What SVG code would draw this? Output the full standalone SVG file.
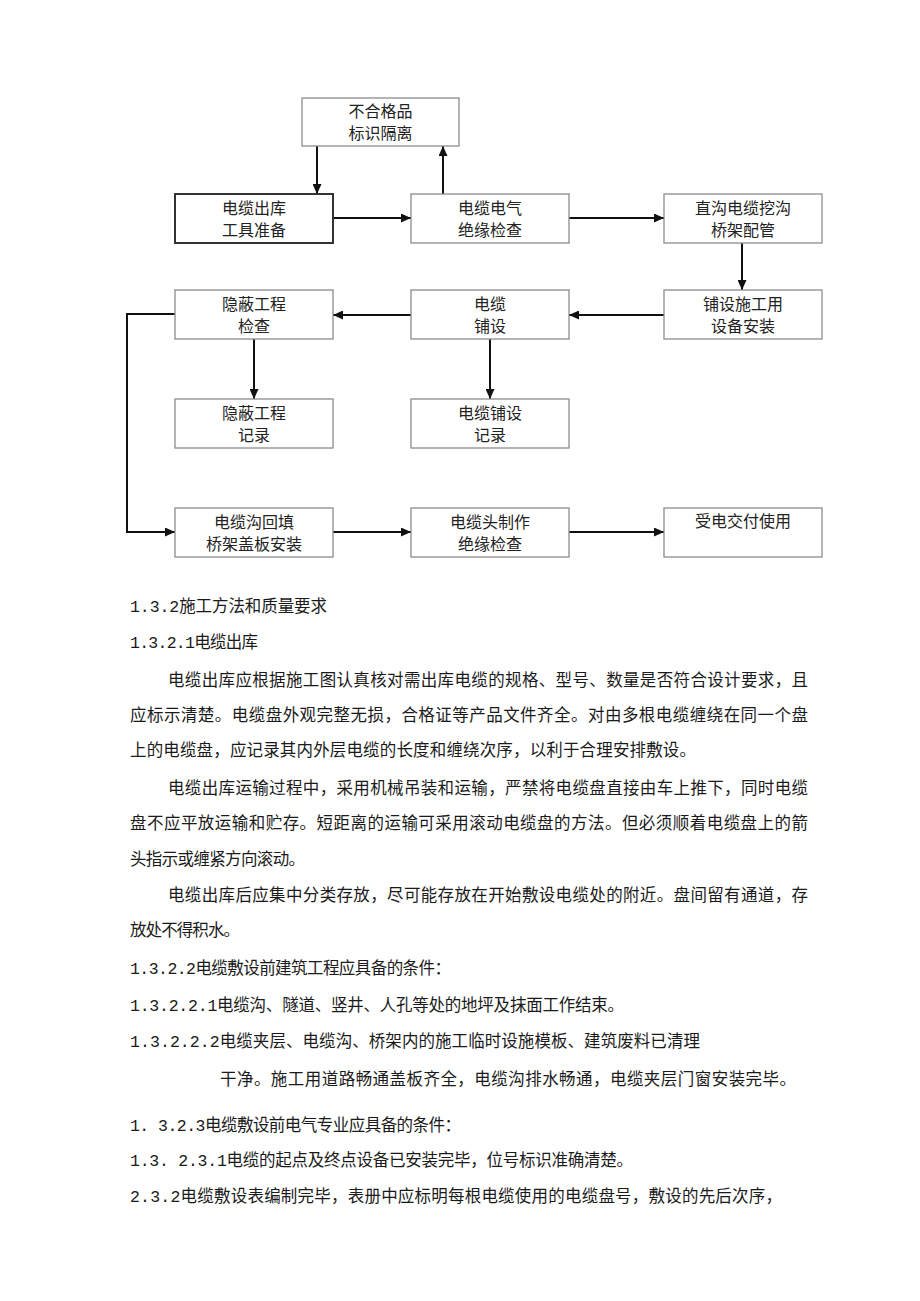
<svg xmlns="http://www.w3.org/2000/svg" width="920" height="1301" viewBox="0 0 920 1301">
<defs>
<marker id="ah" markerUnits="userSpaceOnUse" markerWidth="10" markerHeight="9" refX="10" refY="4.5" orient="auto"><path d="M0,0 L10,4.5 L0,9 z" fill="#111"/></marker>
<style>
.box{fill:#fff;stroke:#8c8c8c;stroke-width:1.3}
.boxd{fill:#fff;stroke:#333;stroke-width:2}
.bt{font-family:"Liberation Serif","Noto Sans CJK SC",serif;font-size:16px;fill:#222;text-anchor:middle}
.c{fill:none;stroke:#111;stroke-width:2;marker-end:url(#ah)}
.p{font-family:"Liberation Mono","Noto Sans CJK SC",monospace;font-size:16.5px;fill:#1a1a1a}
</style>
</defs>
<rect width="920" height="1301" fill="#fff"/>
<g id="connectors">
<path class="c" d="M317 146 V194"/>
<path class="c" d="M443 194 V146"/>
<path class="c" d="M333 218 H411"/>
<path class="c" d="M569 218 H664"/>
<path class="c" d="M742 243 V290"/>
<path class="c" d="M664 315 H569"/>
<path class="c" d="M411 315 H333"/>
<path class="c" d="M254 339 V399"/>
<path class="c" d="M490 339 V399"/>
<path class="c" d="M175 314 H127 V532 H175"/>
<path class="c" d="M333 532 H411"/>
<path class="c" d="M569 532 H664"/>
</g>
<g id="n_reject"><rect class="box" x="302" y="98" width="157" height="48"/><text class="bt" x="380.5" y="117">不合格品</text><text class="bt" x="380.5" y="139">标识隔离</text></g>
<g id="n_out"><rect class="boxd" x="175" y="194" width="158" height="49"/><text class="bt" x="254" y="214">电缆出库</text><text class="bt" x="254" y="236">工具准备</text></g>
<g id="n_insul"><rect class="box" x="411" y="194" width="158" height="49"/><text class="bt" x="490" y="214">电缆电气</text><text class="bt" x="490" y="236">绝缘检查</text></g>
<g id="n_trench"><rect class="box" x="664" y="194" width="158" height="49"/><text class="bt" x="743" y="214">直沟电缆挖沟</text><text class="bt" x="743" y="236">桥架配管</text></g>
<g id="n_hidden"><rect class="box" x="175" y="290" width="158" height="49"/><text class="bt" x="254" y="310">隐蔽工程</text><text class="bt" x="254" y="332">检查</text></g>
<g id="n_lay"><rect class="box" x="411" y="290" width="158" height="49"/><text class="bt" x="490" y="310">电缆</text><text class="bt" x="490" y="332">铺设</text></g>
<g id="n_equip"><rect class="box" x="664" y="290" width="158" height="49"/><text class="bt" x="743" y="310">铺设施工用</text><text class="bt" x="743" y="332">设备安装</text></g>
<g id="n_hrec"><rect class="box" x="175" y="399" width="158" height="49"/><text class="bt" x="254" y="419">隐蔽工程</text><text class="bt" x="254" y="441">记录</text></g>
<g id="n_lrec"><rect class="box" x="411" y="399" width="158" height="49"/><text class="bt" x="490" y="419">电缆铺设</text><text class="bt" x="490" y="441">记录</text></g>
<g id="n_fill"><rect class="box" x="175" y="508" width="158" height="49"/><text class="bt" x="254" y="528">电缆沟回填</text><text class="bt" x="254" y="550">桥架盖板安装</text></g>
<g id="n_head"><rect class="box" x="411" y="508" width="158" height="49"/><text class="bt" x="490" y="528">电缆头制作</text><text class="bt" x="490" y="550">绝缘检查</text></g>
<g id="n_deliver"><rect class="box" x="664" y="508" width="158" height="49"/><text class="bt" x="743" y="527">受电交付使用</text></g>
<g id="body">
<text class="p" x="130" y="612" textLength="197">1.3.2施工方法和质量要求</text>
<text class="p" x="130" y="648" textLength="128">1.3.2.1电缆出库</text>
<text class="p" x="168" y="686" textLength="640">电缆出库应根据施工图认真核对需出库电缆的规格、型号、数量是否符合设计要求，且</text>
<text class="p" x="130" y="721" textLength="678">应标示清楚。电缆盘外观完整无损，合格证等产品文件齐全。对由多根电缆缠绕在同一个盘</text>
<text class="p" x="130" y="756" textLength="566">上的电缆盘，应记录其内外层电缆的长度和缠绕次序，以利于合理安排敷设。</text>
<text class="p" x="168" y="794" textLength="640">电缆出库运输过程中，采用机械吊装和运输，严禁将电缆盘直接由车上推下，同时电缆</text>
<text class="p" x="130" y="829" textLength="678">盘不应平放运输和贮存。短距离的运输可采用滚动电缆盘的方法。但必须顺着电缆盘上的箭</text>
<text class="p" x="130" y="865" textLength="175">头指示或缠紧方向滚动。</text>
<text class="p" x="168" y="901" textLength="640">电缆出库后应集中分类存放，尽可能存放在开始敷设电缆处的附近。盘间留有通道，存</text>
<text class="p" x="130" y="936" textLength="110">放处不得积水。</text>
<text class="p" x="130" y="974" textLength="321">1.3.2.2电缆敷设前建筑工程应具备的条件：</text>
<text class="p" x="130" y="1011" textLength="494">1.3.2.2.1电缆沟、隧道、竖井、人孔等处的地坪及抹面工作结束。</text>
<text class="p" x="130" y="1047" textLength="570">1.3.2.2.2电缆夹层、电缆沟、桥架内的施工临时设施模板、建筑废料已清理</text>
<text class="p" x="220" y="1085" textLength="576">干净。施工用道路畅通盖板齐全，电缆沟排水畅通，电缆夹层门窗安装完毕。</text>
<text class="p" x="130" y="1131" textLength="331">1. 3.2.3电缆敷设前电气专业应具备的条件：</text>
<text class="p" x="130" y="1166" textLength="503">1.3. 2.3.1电缆的起点及终点设备已安装完毕，位号标识准确清楚。</text>
<text class="p" x="130" y="1202" textLength="652">2.3.2电缆敷设表编制完毕，表册中应标明每根电缆使用的电缆盘号，敷设的先后次序，</text>
</g>
</svg>
